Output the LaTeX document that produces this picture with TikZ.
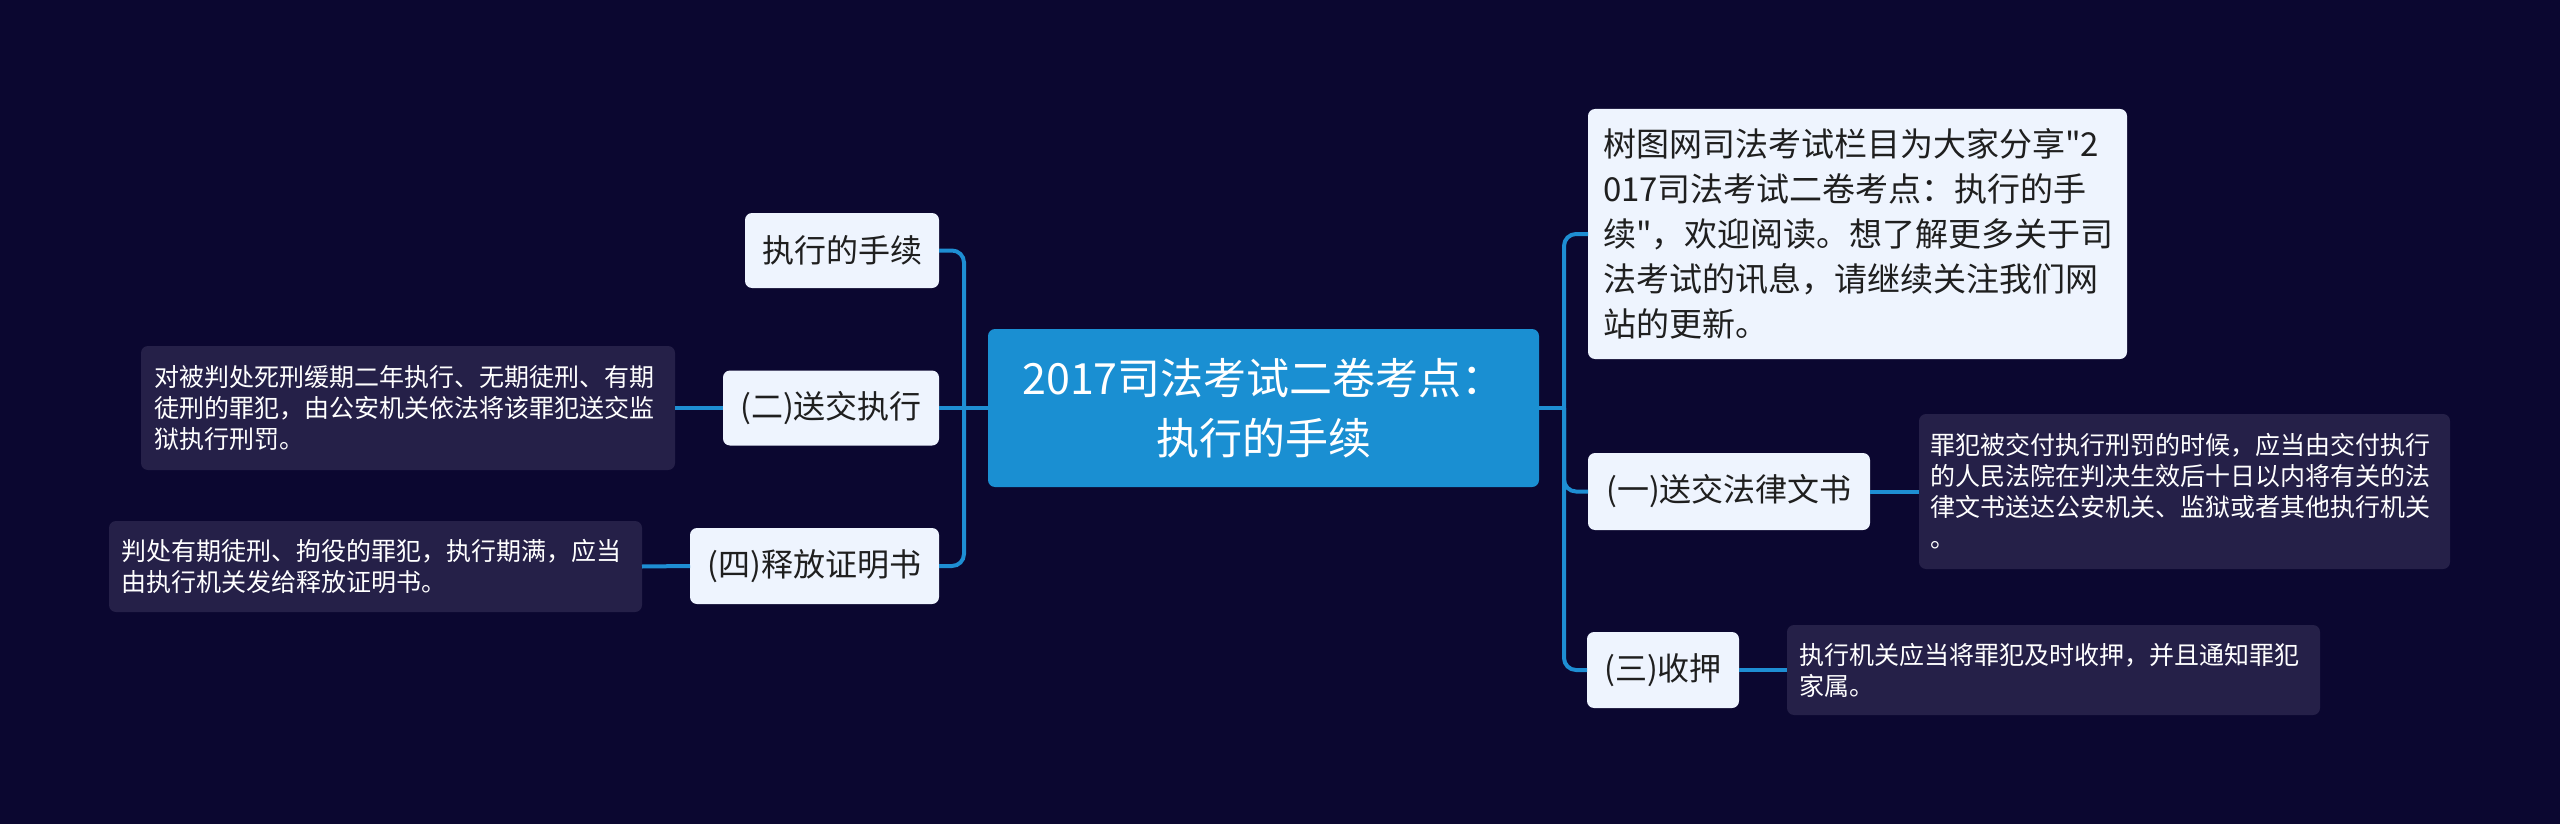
\documentclass[tikz,border=0pt]{standalone}
\usepackage{fontspec}
\setmainfont{Noto Sans CJK SC}[Ligatures=TeXOff]
\definecolor{bg}{HTML}{0B0730}
\definecolor{rootc}{HTML}{1A8FD2}
\definecolor{subc}{HTML}{EEF4FE}
\definecolor{descc}{HTML}{252048}
\definecolor{linec}{HTML}{1E8ED3}
\definecolor{subtext}{HTML}{1F1F1F}
\tikzset{
  box/.style={inner sep=0pt, outer sep=0pt, rounded corners=7pt},
  rootbox/.style={box, fill=rootc, text=white, font=\fontsize{43}{60}\selectfont, align=center},
  subbox/.style={box, fill=subc, text=subtext, font=\fontsize{32}{40}\selectfont, align=center},
  infobox/.style={box, fill=subc, text=subtext, font=\fontsize{33}{45}\selectfont, align=left},
  descbox/.style={box, fill=descc, text=white, font=\fontsize{25}{31}\selectfont, align=left},
  conn/.style={draw=linec, line width=4pt},
  elbow/.style={conn, rounded corners=12pt}
}
\begin{document}
\begin{tikzpicture}[x=1pt, y=-1pt]
\fill[bg] (0,0) rectangle (2560,824);
\useasboundingbox (0,0) rectangle (2560,824);

% root
\node[rootbox, minimum width=551pt, minimum height=158pt] (root) at (1263.5,408) {2017司法考试二卷考点：\\执行的手续};

% right side
\node[infobox, minimum width=539pt, minimum height=250pt, text width=509pt] (r0) at (1857.5,234)
 {树图网司法考试栏目为大家分享"2\\017司法考试二卷考点：执行的手\\续"，欢迎阅读。想了解更多关于司\\法考试的讯息，请继续关注我们网\\站的更新。};
\node[subbox, minimum width=282pt, minimum height=77pt] (r1) at (1729,491.5) {(一)送交法律文书};
\node[subbox, minimum width=152pt, minimum height=76pt] (r3) at (1663,670) {(三)收押};
\node[descbox, minimum width=531pt, minimum height=155pt, text width=508pt] (d1) at (2184.5,491.5)
 {罪犯被交付执行刑罚的时候，应当由交付执行\\的人民法院在判决生效后十日以内将有关的法\\律文书送达公安机关、监狱或者其他执行机关\\。};
\node[descbox, minimum width=533pt, minimum height=90pt, text width=508pt] (d3) at (2053.5,670)
 {执行机关应当将罪犯及时收押，并且通知罪犯\\家属。};

% left side
\node[subbox, minimum width=194pt, minimum height=75pt] (l0) at (842,250.5) {执行的手续};
\node[subbox, minimum width=216pt, minimum height=75pt] (l2) at (831,408) {(二)送交执行};
\node[subbox, minimum width=249pt, minimum height=76pt] (l4) at (814.5,566) {(四)释放证明书};
\node[descbox, minimum width=534pt, minimum height=124pt, text width=508pt] (d2) at (408,408)
 {对被判处死刑缓期二年执行、无期徒刑、有期\\徒刑的罪犯，由公安机关依法将该罪犯送交监\\狱执行刑罚。};
\node[descbox, minimum width=533pt, minimum height=91pt, text width=508pt] (d4) at (375.5,566.5)
 {判处有期徒刑、拘役的罪犯，执行期满，应当\\由执行机关发给释放证明书。};

% buses
\coordinate (rbus) at (1564,408);
\coordinate (lbus) at (964,408);

% connectors
\draw[conn] (root.east) -- (rbus);
\draw[elbow] (rbus) |- (r0.west);
\draw[elbow] (rbus) |- (r1.west);
\draw[elbow] (rbus) |- (r3.west);
\draw[conn] (r1.east) -- (d1.west);
\draw[conn] (r3.east) -- (d3.west);

\draw[conn] (root.west) -- (lbus);
\draw[elbow] (lbus) |- (l0.east);
\draw[conn] (lbus) -- (l2.east);
\draw[elbow] (lbus) |- (l4.east);
\draw[conn] (l2.west) -- (d2.east);
\draw[conn] (l4.west) -- (d4.east);
\end{tikzpicture}
\end{document}
